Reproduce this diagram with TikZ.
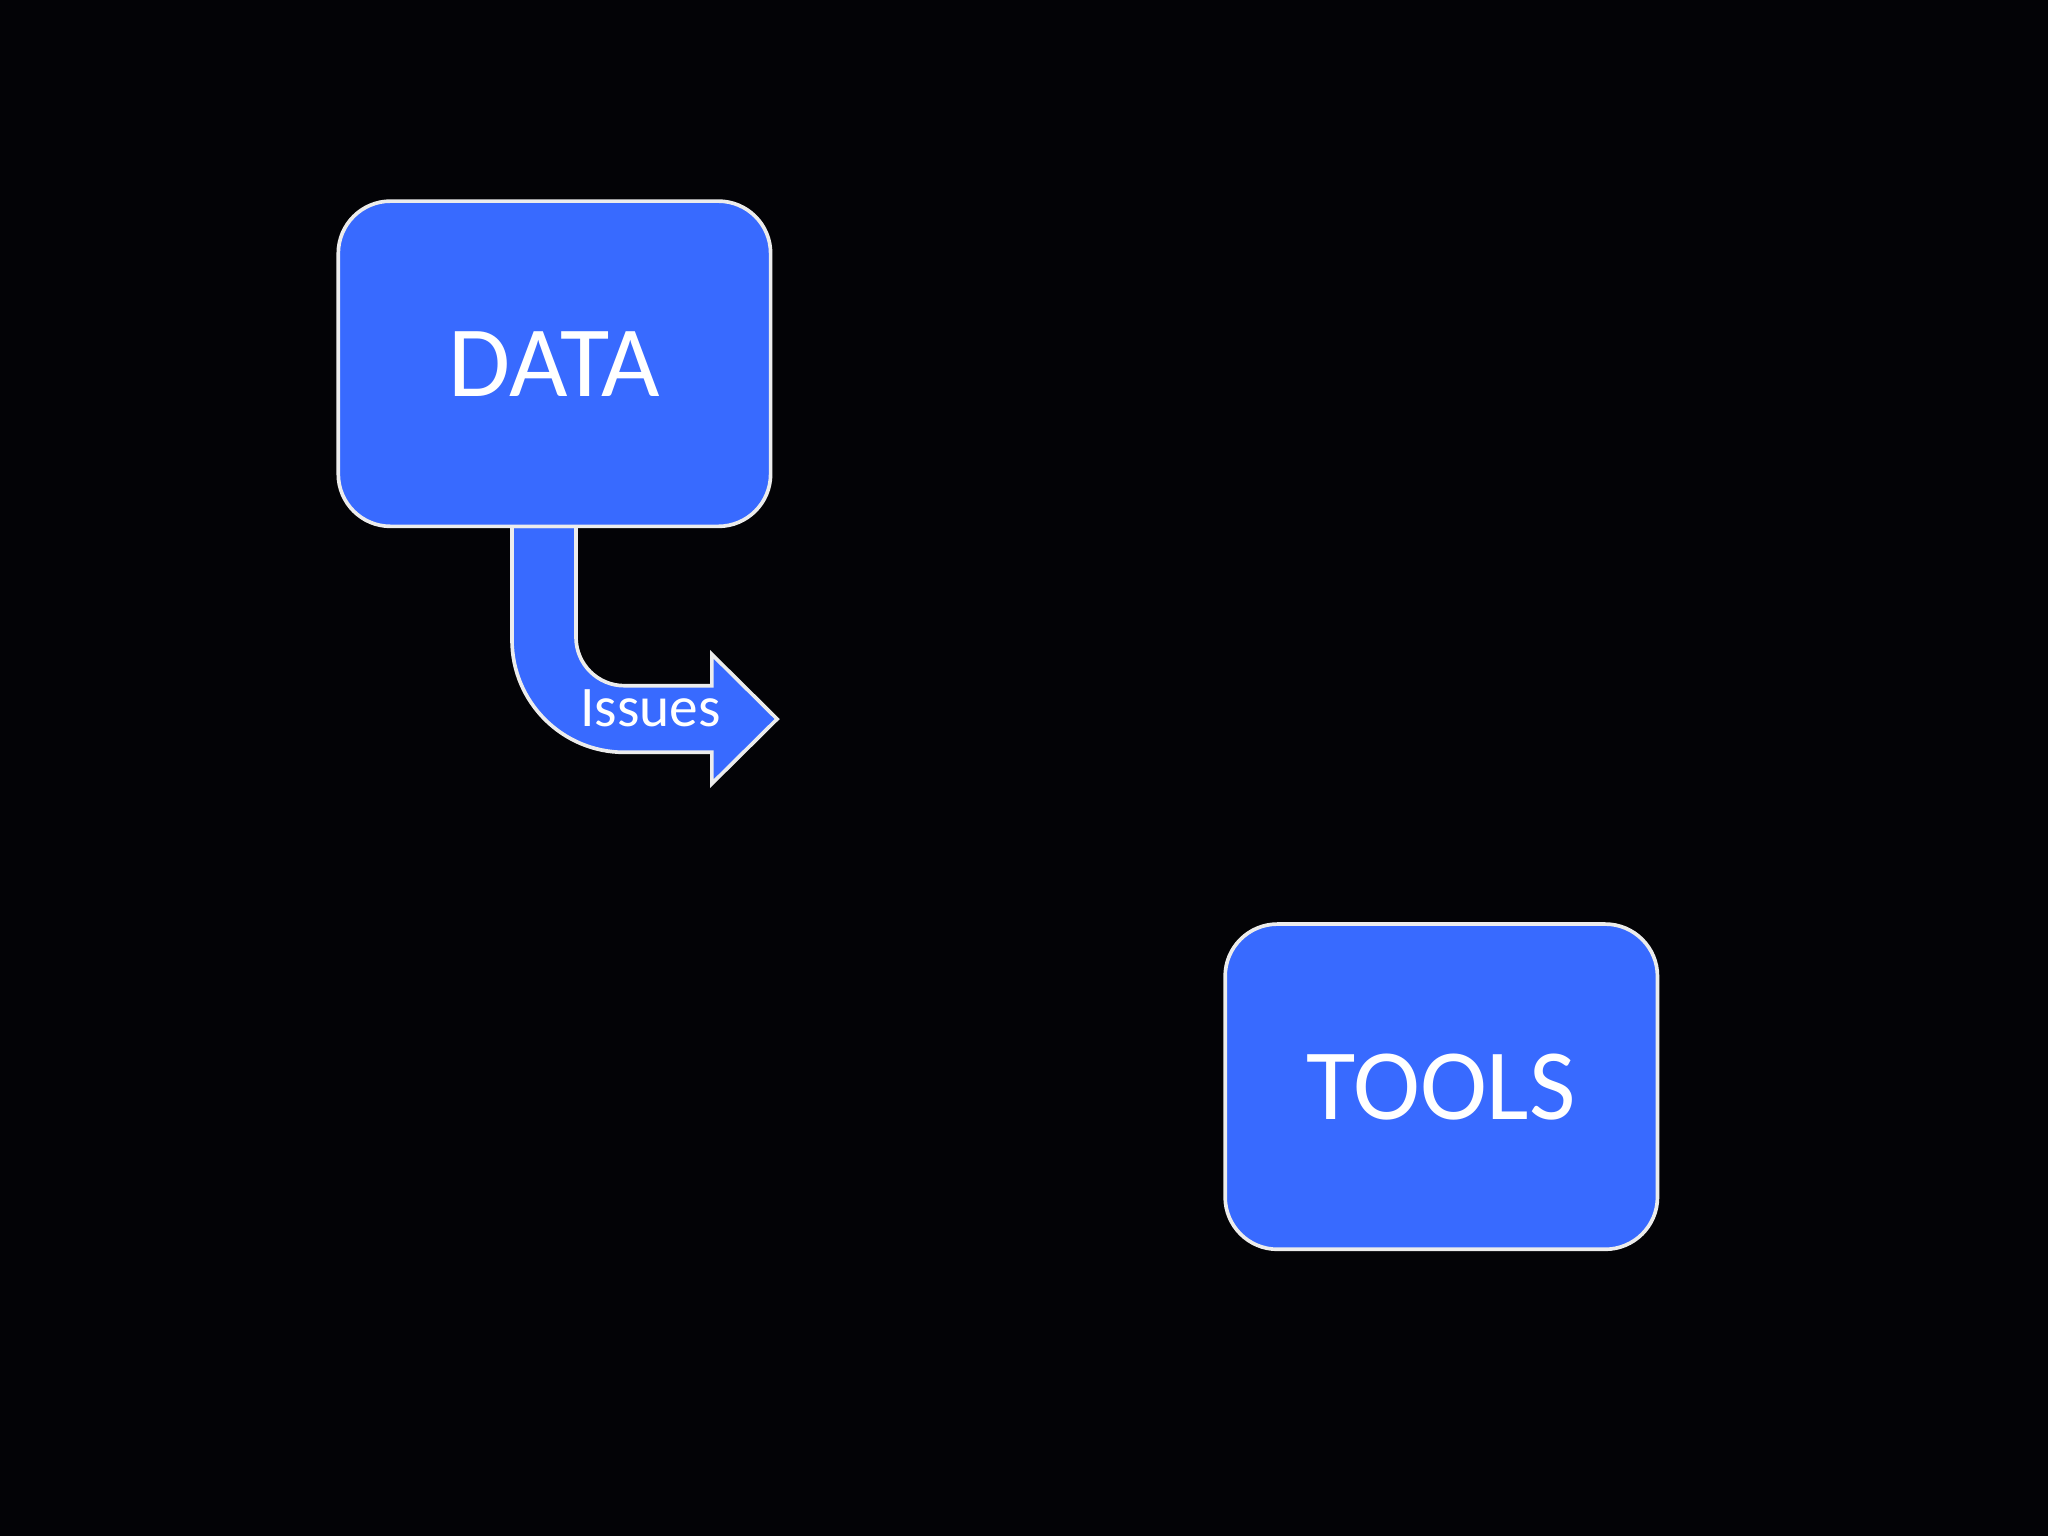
\documentclass[tikz,border=0pt]{standalone}
\usepackage{fontspec}
\setmainfont{Carlito}
\definecolor{boxblue}{HTML}{386AFF}
\definecolor{bg}{HTML}{030306}
\tikzset{
  blk/.style={draw=white!85!gray, line width=0.8pt, fill=boxblue, rounded corners=0.4cm, minimum width=3.31cm, minimum height=2.49cm, text=white, font=\fontsize{22}{26}\selectfont},
  arr/.style={draw=white!85!gray, line width=0.8pt, fill=boxblue}
}
\begin{document}
\begin{tikzpicture}
\fill[bg] (0,0) rectangle (15.68,-11.76);
\useasboundingbox (0,0) rectangle (15.68,-11.76);
\draw[arr] (3.92,-4.03) -- (3.92,-4.90) arc[start angle=180,end angle=270,radius=0.86]
  -- (5.45,-5.76) -- (5.45,-6.00) -- (5.95,-5.505) -- (5.45,-5.01) -- (5.45,-5.25) -- (4.78,-5.25)
  arc[start angle=270,end angle=180,radius=0.37] -- (4.41,-4.03) -- cycle;
\node[text=white, font=\fontsize{12.5}{15}\selectfont] (iss) at (4.98,-5.42) {Issues};
\node[blk] (data) at (4.245,-2.785) {DATA};
\node[blk] (tools) at (11.035,-8.32) {TOOLS};
\end{tikzpicture}
\end{document}
